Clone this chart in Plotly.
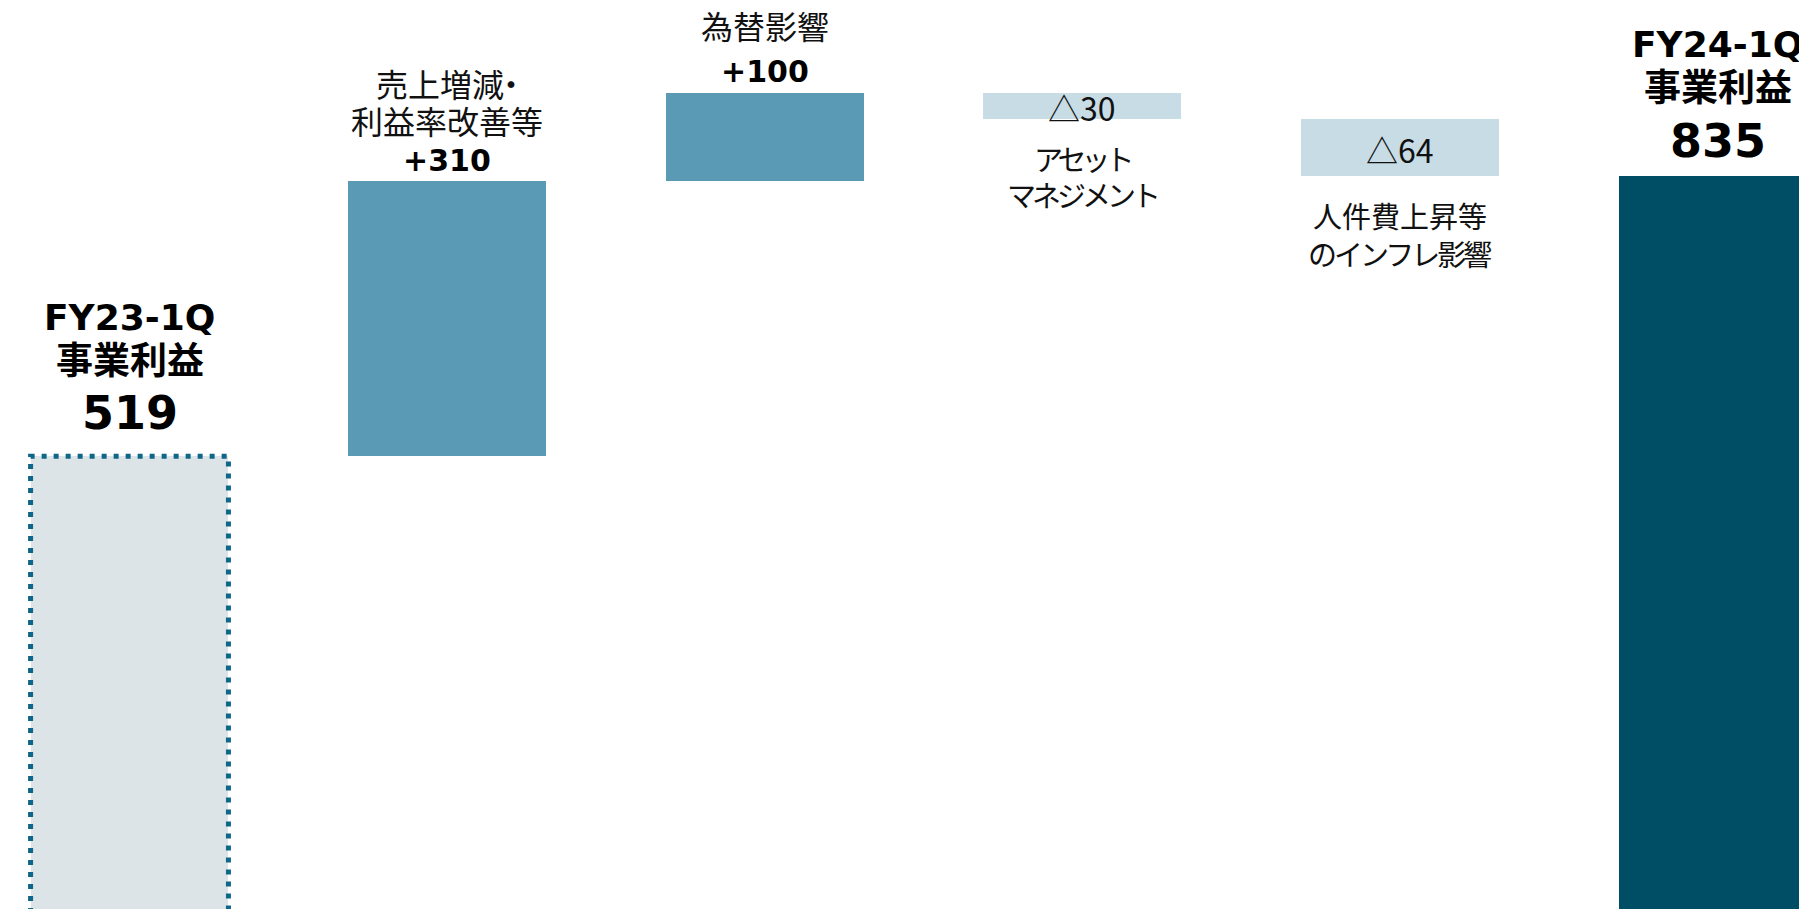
import plotly.graph_objects as go

# --- data -------------------------------------------------------------
categories = [
    "FY23-1Q事業利益",
    "売上増減・利益率改善等",
    "為替影響",
    "アセットマネジメント",
    "人件費上昇等のインフレ影響",
    "FY24-1Q事業利益",
]
values = [519, 310, 100, -30, -64, 835]
measures = ["absolute", "relative", "relative", "relative", "relative", "total"]
value_labels = ["519", "+310", "+100", "△30", "△64", "835"]
# text lines shown with each bar (besides the value label)
title_lines = [
    ["FY23-1Q", "事業利益"],
    ["売上増<span style='letter-spacing:-9px'>減・</span>", "利益率改善等"],
    ["為替影響"],
    ["<span style='letter-spacing:-5px'>アセット</span>",
     "<span style='letter-spacing:-4px'>マネジメント</span>"],
    ["人件費上昇等", "<span style='letter-spacing:-3px'>のインフレ影響</span>"],
    ["FY24-1Q", "事業利益"],
]
colors = ["#DDE4E8", "#5B9AB5", "#5B9AB5", "#C7DCE5", "#C7DCE5", "#004D66"]

# --- waterfall geometry from the data ---------------------------------
bases, heights = [], []
running = 0
for v, m in zip(values, measures):
    if m in ("absolute", "total"):
        bases.append(0)
        heights.append(v)
        running = v
    else:
        if v >= 0:
            bases.append(running)
            heights.append(v)
        else:
            bases.append(running + v)
            heights.append(-v)
        running += v

xs = list(range(len(categories)))
BAR_W = 0.623

BOLD = "DejaVu Sans, Noto Sans CJK JP, sans-serif"
REG = "Noto Sans CJK JP, sans-serif"

fig = go.Figure()
fig.add_trace(go.Bar(
    x=xs,
    y=heights,
    base=bases,
    width=BAR_W,
    marker=dict(color=colors, line=dict(width=0)),
    hoverinfo="skip",
    showlegend=False,
))

# dotted outline round the starting bar
fig.add_shape(
    type="rect", xref="x", yref="y",
    x0=xs[0] - BAR_W / 2, x1=xs[0] + BAR_W / 2,
    y0=bases[0], y1=bases[0] + heights[0],
    line=dict(color="#0F6688", width=5, dash="5px,7px"),
    fillcolor="rgba(0,0,0,0)",
    layer="above",
)


def note(x, y, text, size, shift, bold=False, color="#111111"):
    fig.add_annotation(
        x=x, y=y, xref="x", yref="y",
        text=text, showarrow=False,
        xanchor="center", yanchor="middle",
        yshift=shift,
        font=dict(family=BOLD if bold else REG, size=size, color=color,
                  weight="bold" if bold else "normal"),
    )


title_gap = {1: 40, 2: 47}
head_adjust = {0: 5, 5: -3}
line_pitch = {3: 36, 4: 38}
for i, m in enumerate(measures):
    top = bases[i] + heights[i]
    bottom = bases[i]
    if m in ("absolute", "total"):
        # big heading above the bar
        a = head_adjust.get(i, 0)
        note(i, top, title_lines[i][0], 36, 134 + a, bold=True, color="#000000")
        note(i, top, title_lines[i][1], 37, 90 + a, bold=True, color="#000000")
        note(i, top, value_labels[i], 46, 38 + a, bold=True, color="#000000")
    elif values[i] >= 0:
        n = len(title_lines[i])
        g = title_gap.get(i, 40)
        for k, line in enumerate(title_lines[i]):
            note(i, top, line, 32, 21 + g + 37 * (n - 1 - k), color="#111111")
        note(i, top, value_labels[i], 30, 21, bold=True, color="#000000")
    else:
        note(i, (top + bottom) / 2, value_labels[i], 32, -1, color="#111111")
        p = line_pitch.get(i, 36)
        for k, line in enumerate(title_lines[i]):
            note(i, bottom, line, 29, -(39 + p * k), color="#111111")

# the page body adds an 8px margin, so the figure is 8px smaller and the
# axis ranges start where the reference's frame would be
fig.update_xaxes(
    range=[-0.3826, 5.2818],
    showticklabels=False, showgrid=False, zeroline=False, showline=False,
)
fig.update_yaxes(
    range=[8.5, 1024.3],
    showticklabels=False, showgrid=False, zeroline=False, showline=False,
)
fig.update_layout(
    width=1799, height=901,
    margin=dict(l=0, r=0, t=0, b=0),
    plot_bgcolor="white", paper_bgcolor="white",
    showlegend=False,
    bargap=0,
)

fig.write_html("out.html")
